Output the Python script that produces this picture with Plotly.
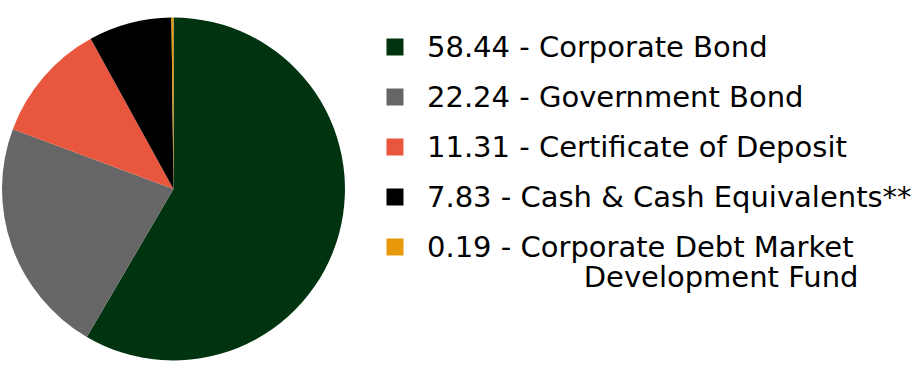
import plotly.graph_objects as go

categories = ["Corporate Bond", "Government Bond", "Certificate of Deposit",
              "Cash & Cash Equivalents**", "Corporate Debt Market Development Fund"]
values = [58.44, 22.24, 11.31, 7.83, 0.19]
colors = ["#00330F", "#666666", "#E8573D", "#000000", "#E8990A"]
INDENT = "\u00a0" * 17
legend_names = ["Corporate Bond", "Government Bond", "Certificate of Deposit",
                "Cash & Cash Equivalents**",
                "Corporate Debt Market<br>" + INDENT + "Development Fund"]
legend_labels = [f"{v:.2f} - {n}" for v, n in zip(values, legend_names)]
rows = list(range(len(categories)))

FONT = "DejaVu Sans"
FS = 29
LINE_GAP = 30

fig = go.Figure()
fig.add_trace(go.Pie(
    labels=categories, values=values, sort=False, direction="clockwise",
    rotation=0, marker=dict(colors=colors, line=dict(width=0)),
    textinfo="none", showlegend=False,
    domain=dict(x=[0.0022, 0.3766], y=[0.0204, 0.9524]),
))
fig.add_trace(go.Scatter(
    x=[0] * len(rows), y=rows, mode="markers",
    marker=dict(symbol="square", size=17, color=colors, line=dict(width=0)),
    showlegend=False, hoverinfo="skip",
))

annotations = []
for i, lab in zip(rows, legend_labels):
    for k, line in enumerate(lab.split("<br>")):
        annotations.append(dict(
            x=0.94, y=i, xref="x", yref="y", text=line, showarrow=False,
            xanchor="left", yanchor="middle", yshift=-k * LINE_GAP,
            borderpad=0,
            font=dict(family=FONT, size=FS, color="#000000"),
        ))

fig.update_layout(
    width=916, height=368, margin=dict(l=0, r=0, t=0, b=0),
    paper_bgcolor="white", plot_bgcolor="white",
    xaxis=dict(range=[-11.97, 15.79], visible=False, fixedrange=True),
    yaxis=dict(range=[6.42, -0.94], visible=False, fixedrange=True),
    annotations=annotations,
)
fig.write_html("out.html", config={"displayModeBar": False},
               post_script="document.body.style.margin='0';")
